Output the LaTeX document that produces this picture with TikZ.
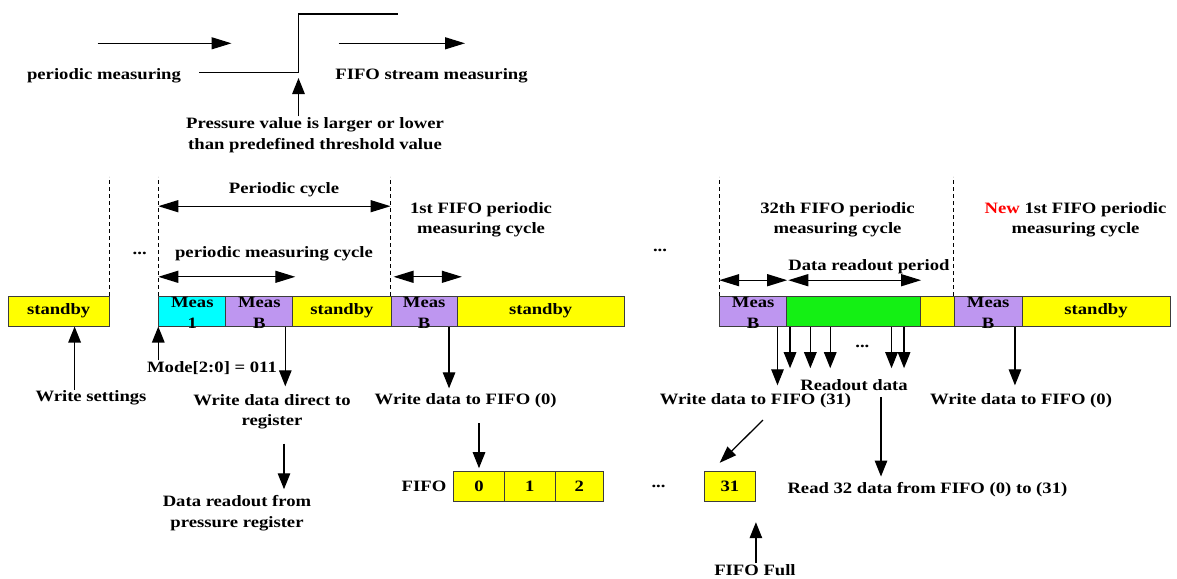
\documentclass[tikz,border=0pt]{standalone}
\usepackage{fontspec}
\setmainfont{Liberation Serif}[FakeStretch=1.18]
\usetikzlibrary{arrows.meta}
\definecolor{yel}{RGB}{255,255,0}
\definecolor{cy}{RGB}{0,255,255}
\definecolor{pu}{RGB}{190,150,240}
\definecolor{gr}{RGB}{20,240,20}
\definecolor{boxc}{RGB}{60,60,60}
\begin{document}
\begin{tikzpicture}[x=1pt,y=-1pt,
  font=\fontsize{15.8pt}{20.5pt}\selectfont\bfseries,
  lbl/.style={inner sep=1pt, align=center},
  bx/.style={draw=boxc, line width=1pt, minimum height=30pt, inner sep=0pt, align=center},
  ln/.style={line width=1.3pt},
  harrow/.style={ln, -{Triangle[length=20pt,width=12pt]}},
  dharrow/.style={ln, {Triangle[length=20pt,width=12pt]}-{Triangle[length=20pt,width=12pt]}},
  varrow/.style={ln, -{Triangle[length=16pt,width=12.5pt]}},
  darrow/.style={ln, -{Triangle[length=17pt,width=12pt]}},
  dsh/.style={line width=1pt, dash pattern=on 4pt off 3pt}]
\useasboundingbox (0,0) rectangle (1177,578);

% ---------- top ----------
\coordinate (a1s) at (97.6,43.3); \coordinate (a1e) at (231.5,43.3);
\draw[harrow] (a1s) -- (a1e);
\coordinate (a2s) at (338.7,43.3); \coordinate (a2e) at (465,43.3);
\draw[harrow] (a2s) -- (a2e);
\node[lbl] (pm) at (104,76) {periodic measuring};
\node[lbl] (fsm) at (431.5,76) {FIFO stream measuring};
\coordinate (s1) at (199,72.7); \coordinate (s2) at (298.5,72.7);
\coordinate (s3) at (298.5,14); \coordinate (s4) at (398,14);
\draw[ln] (s1) -- (s2) -- (s3) -- (s4);
\node[lbl] (pv) at (315,135) {Pressure value is larger or lower\\than predefined threshold value};
\coordinate (s2b) at (298.5,78);
\draw[varrow] (s2b |- pv.north) -- (s2b);

% ---------- bar ----------
\node[bx, fill=yel, minimum width=100.6pt] (sb1) at (58.7,311) {standby};
\node[bx, fill=cy, minimum width=67pt] (m1) at (192.3,311) {};
\node[lbl] (m1t) at (192.3,313) {Meas\\1};
\node[bx, fill=pu, minimum width=67pt] (mb1) at (259.3,311) {};
\node[lbl] (mb1t) at (259.3,313) {Meas\\B};
\node[bx, fill=yel, minimum width=98.2pt] (sb2) at (341.9,311) {standby};
\node[bx, fill=pu, minimum width=66.3pt] (mb2) at (424.2,311) {};
\node[lbl] (mb2t) at (424.2,313) {Meas\\B};
\node[bx, fill=yel, minimum width=166.7pt] (sb3) at (540.7,311) {standby};
\node[bx, fill=pu, minimum width=67pt] (mb3) at (753.2,311) {};
\node[lbl] (mb3t) at (753.2,313) {Meas\\B};
\node[bx, fill=gr, minimum width=133.9pt] (grn) at (853.7,311) {};
\node[bx, fill=yel, minimum width=33.7pt] (yl) at (937.5,311) {};
\node[bx, fill=pu, minimum width=67.7pt] (mb4) at (988.2,311) {};
\node[lbl] (mb4t) at (988.2,313) {Meas\\B};
\node[bx, fill=yel, minimum width=148pt] (sb4) at (1096,311) {standby};

% dashed separators
\draw[dsh] (sb1.north east) -- ++(0,-119);
\draw[dsh] (m1.north west) -- ++(0,-119);
\draw[dsh] (mb2.north west) -- ++(0,-119);
\draw[dsh] (mb3.north west) -- ++(0,-119);
\draw[dsh] (mb4.north west) -- ++(0,-119);

% cycle labels
\node[lbl] (pc) at (284,190) {Periodic cycle};
\node[lbl] (c1) at (481,220) {1st FIFO periodic\\measuring cycle};
\node[lbl] (pmc) at (274,254) {periodic measuring cycle};
\node[lbl] (c32) at (837.5,220) {32th FIFO periodic\\measuring cycle};
\node[lbl] (cn) at (1075.5,220) {\textcolor{red}{New} 1st FIFO periodic\\measuring cycle};
\node[lbl] (drp) at (869,266.7) {Data readout period};
\node[lbl] (d1) at (139.7,253) {...};
\node[lbl] (d2) at (660,250) {...};

\draw[dharrow] ([yshift=89.3pt]m1.north west) -- ([yshift=89.3pt]mb2.north west);
\draw[dharrow] ([yshift=18.7pt]m1.north west) -- ([yshift=18.7pt,xshift=2pt]mb1.north east);
\draw[dharrow] ([yshift=18.7pt,xshift=3pt]mb2.north west) -- ([yshift=18.7pt,xshift=4pt]mb2.north east);
\draw[dharrow] ([yshift=15.3pt]mb3.north west) -- ([yshift=15.3pt]mb3.north east);
\draw[dharrow] ([yshift=15.3pt,xshift=2pt]grn.north west) -- ([yshift=15.3pt]grn.north east);

% ---------- lower left ----------
\node[lbl] (ws) at (91,398) {Write settings};
\coordinate (wsT) at ([xshift=15.9pt]sb1.south);
\draw[varrow] (wsT |- ws.north) -- (wsT);
\node[lbl] (mode) at (212,368) {Mode[2:0] = 011};
\draw[varrow] (m1.south west |- mode.north) -- (m1.south west);
\node[lbl] (wd1) at (272,412) {Write data direct to\\register};
\coordinate (mb1a) at ([xshift=-8pt]mb1.south east);
\draw[varrow, shorten >=7pt] (mb1a) -- (mb1a |- wd1.north);
\node[lbl] (dr) at (237,513) {Data readout from\\pressure register};
\coordinate (wdx) at (284,0);
\draw[varrow, shorten <=13pt, shorten >=5pt] (wdx |- wd1.south) -- (wdx |- dr.north);

\node[lbl] (wf0) at (465.7,400.7) {Write data to FIFO (0)};
\coordinate (mb2a) at ([xshift=-8.8pt]mb2.south east);
\draw[varrow, shorten >=4pt] (mb2a) -- (mb2a |- wf0.north);

% FIFO
\node[lbl] (fl) at (424,486.7) {FIFO};
\node[bx, fill=yel, minimum width=51pt] (f0) at (479,486.7) {0};
\node[bx, fill=yel, minimum width=50.6pt] (f1) at (529.7,486.7) {1};
\node[bx, fill=yel, minimum width=48.7pt] (f2) at (579.4,486.7) {2};
\node[lbl] (d4) at (658.5,486.7) {...};
\node[bx, fill=yel, minimum width=51pt] (f31) at (729.9,486.7) {31};
\draw[varrow, shorten <=14pt, shorten >=3pt] (f0.north |- wf0.south) -- (f0.north);

% ---------- lower right ----------
\node[lbl] (wf31) at (755.5,400.7) {Write data to FIFO (31)};
\coordinate (mb3a) at ([xshift=-9.7pt]mb3.south east);
\draw[varrow, shorten >=7pt] (mb3a) -- (mb3a |- wf31.north);
\node[lbl] (rd) at (854,385) {Readout data};
\node[lbl] (d3) at (862.4,346) {...};
\foreach \o [count=\i] in {3.8,24.1,44,105.3,117.8}
  \draw[varrow, shorten >=10pt] ([xshift=\o pt]grn.south west) coordinate (g\i) -- (g\i |- rd.north);
\node[lbl] (r32) at (927.4,490) {Read 32 data from FIFO (0) to (31)};
\coordinate (rdx) at ([xshift=27pt]rd.south);
\draw[varrow, shorten <=5pt, shorten >=5pt] (rdx) -- (rdx |- r32.north);
\draw[darrow] ([xshift=7.5pt,yshift=-11pt]wf31.south) -- ([xshift=-10.2pt,yshift=8.4pt]f31.north);
\node[lbl] (wf0b) at (1021,400.7) {Write data to FIFO (0)};
\coordinate (mb4a) at ([xshift=-7.6pt]mb4.south east);
\draw[varrow, shorten >=7pt] (mb4a) -- (mb4a |- wf0b.north);
\node[lbl] (ff) at (755,570) {FIFO Full};
\draw[varrow] (f31.south east |- ff.north) -- ([yshift=-20pt]f31.south east);
\end{tikzpicture}
\end{document}
